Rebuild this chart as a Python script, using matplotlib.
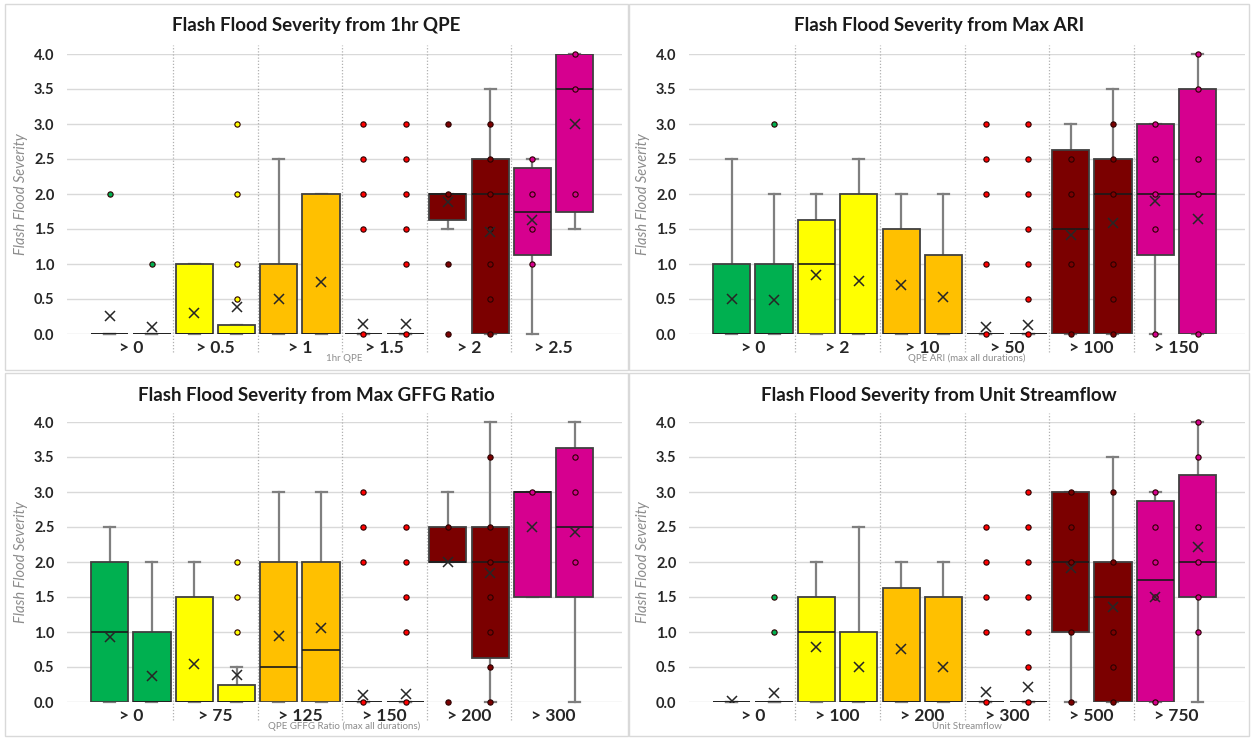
import matplotlib.pyplot as plt
from matplotlib.patches import Rectangle

plt.rcParams.update({
    "font.family": ["Lato", "DejaVu Sans"],
    "axes.facecolor": "white",
    "figure.facecolor": "white",
})

# ---- data ----
TITLES = [
    "Flash Flood Severity from 1hr QPE",
    "Flash Flood Severity from Max ARI",
    "Flash Flood Severity from Max GFFG Ratio",
    "Flash Flood Severity from Unit Streamflow",
]
XLABELS = ["1hr QPE", "QPE ARI (max all durations)",
           "QPE GFFG Ratio (max all durations)", "Unit Streamflow"]
CATS = [
    ["> 0", "> 0.5", "> 1", "> 1.5", "> 2", "> 2.5"],
    ["> 0", "> 2", "> 10", "> 50", "> 100", "> 150"],
    ["> 0", "> 75", "> 125", "> 150", "> 200", "> 300"],
    ["> 0", "> 100", "> 200", "> 300", "> 500", "> 750"],
]
CAT_COLORS = ["#00b050", "#ffff00", "#ffc000", "#ff0000", "#7b0000", "#d6008f"]

# two boxes per category, 12 per panel
qpe_lo = [0, 0, 0, 0, 0, 0, 0, 0, 1.5, 0, 0, 1.5]
qpe_q1 = [0, 0, 0, 0, 0, 0, 0, 0, 1.625, 0, 1.125, 1.75]
qpe_med = [0, 0, 0, 0, 0, 0, 0, 0, 2.0, 2.0, 1.75, 3.5]
qpe_q3 = [0, 0, 1.0, 0.125, 1.0, 2.0, 0, 0, 2.0, 2.5, 2.375, 4.0]
qpe_hi = [0, 0, 1.0, 0.125, 2.5, 2.0, 0, 0, 2.0, 3.5, 2.5, 4.0]
qpe_mean = [0.26, 0.1, 0.3, 0.39, 0.5, 0.74, 0.14, 0.14, 1.88, 1.46, 1.63, 3.0]
qpe_pts = [[2.0], [1.0], [], [3.0, 2.0, 1.0, 0.5], [], [],
           [3.0, 2.5, 2.0, 1.5, 0], [3.0, 2.5, 2.0, 1.5, 1.0, 0],
           [3.0, 2.0, 1.0, 0], [3.0, 2.5, 2.0, 1.5, 1.0, 0.5, 0],
           [2.5, 2.0, 1.5, 1.0], [4.0, 3.5, 2.0]]

ari_lo = [0, 0, 0, 0, 0, 0, 0, 0, 0, 0, 0, 0]
ari_q1 = [0, 0, 0, 0, 0, 0, 0, 0, 0, 0, 1.125, 0]
ari_med = [0, 0, 1.0, 0, 0, 0, 0, 0, 1.5, 2.0, 2.0, 2.0]
ari_q3 = [1.0, 1.0, 1.625, 2.0, 1.5, 1.125, 0, 0, 2.625, 2.5, 3.0, 3.5]
ari_hi = [2.5, 2.0, 2.0, 2.5, 2.0, 2.0, 0, 0, 3.0, 3.5, 3.0, 4.0]
ari_mean = [0.5, 0.48, 0.85, 0.76, 0.7, 0.53, 0.1, 0.13, 1.42, 1.59, 1.9, 1.64]
ari_pts = [[], [3.0], [], [], [], [],
           [3.0, 2.5, 2.0, 1.0, 0], [3.0, 2.5, 2.0, 1.5, 1.0, 0.5, 0],
           [2.5, 2.0, 1.0, 0], [3.0, 2.5, 2.0, 1.0, 0.5, 0],
           [3.0, 2.5, 2.0, 1.5, 0], [4.0, 3.5, 2.5, 2.0, 0]]

gffg_lo = [0, 0, 0, 0, 0, 0, 0, 0, 2.0, 0, 1.5, 0]
gffg_q1 = [0, 0, 0, 0, 0, 0, 0, 0, 2.0, 0.625, 1.5, 1.5]
gffg_med = [1.0, 0, 0, 0, 0.5, 0.75, 0, 0, 2.0, 2.0, 3.0, 2.5]
gffg_q3 = [2.0, 1.0, 1.5, 0.25, 2.0, 2.0, 0, 0, 2.5, 2.5, 3.0, 3.625]
gffg_hi = [2.5, 2.0, 2.0, 0.5, 3.0, 3.0, 0, 0, 3.0, 4.0, 3.0, 4.0]
gffg_mean = [0.93, 0.37, 0.55, 0.39, 0.94, 1.06, 0.1, 0.12, 2.0, 1.84, 2.5, 2.43]
gffg_pts = [[], [], [], [2.0, 1.5, 1.0], [], [],
            [3.0, 2.5, 2.0, 0], [2.5, 2.0, 1.5, 1.0, 0],
            [2.5, 0], [3.5, 2.5, 2.0, 1.5, 1.0, 0.5, 0],
            [3.0], [3.5, 3.0, 2.0]]

flow_lo = [0, 0, 0, 0, 0, 0, 0, 0, 0, 0, 0, 0]
flow_q1 = [0, 0, 0, 0, 0, 0, 0, 0, 1.0, 0, 0, 1.5]
flow_med = [0, 0, 1.0, 0, 0, 0, 0, 0, 2.0, 1.5, 1.75, 2.0]
flow_q3 = [0, 0, 1.5, 1.0, 1.625, 1.5, 0, 0, 3.0, 2.0, 2.875, 3.25]
flow_hi = [0, 0, 2.0, 2.5, 2.0, 2.0, 0, 0, 3.0, 3.5, 3.0, 4.0]
flow_mean = [0.02, 0.13, 0.79, 0.5, 0.76, 0.5, 0.14, 0.21, 1.91, 1.36, 1.5, 2.21]
flow_pts = [[], [1.5, 1.0], [], [], [], [],
            [2.5, 2.0, 1.5, 1.0, 0], [3.0, 2.5, 2.0, 1.5, 1.0, 0.5, 0],
            [3.0, 2.5, 2.0, 1.0, 0], [3.0, 2.0, 1.0, 0.5, 0],
            [3.0, 2.5, 2.0, 1.5, 0], [4.0, 3.5, 2.5, 2.0, 1.5, 1.0]]

PANELS = [
    (qpe_lo, qpe_q1, qpe_med, qpe_q3, qpe_hi, qpe_mean, qpe_pts),
    (ari_lo, ari_q1, ari_med, ari_q3, ari_hi, ari_mean, ari_pts),
    (gffg_lo, gffg_q1, gffg_med, gffg_q3, gffg_hi, gffg_mean, gffg_pts),
    (flow_lo, flow_q1, flow_med, flow_q3, flow_hi, flow_mean, flow_pts),
]

# ---- layout in pixels ----
W, H = 1251, 738
fig = plt.figure(figsize=(W / 100, H / 100), dpi=100)

# (plot left, right, top, bottom), (frame left, right, top, bottom)
BOXES = [
    ((67, 622, 54, 334), (5, 628, 4, 370)),
    ((689, 1245, 54, 334), (629, 1249, 4, 370)),
    ((67, 622, 422, 702), (5, 628, 373, 736)),
    ((689, 1245, 422, 702), (629, 1249, 373, 736)),
]

GRID = "#d9d9d9"
EDGE = "#404040"
WHISK = "#7f7f7f"

for k, ((l, r, t, b), (fl, fr, ft, fb)) in enumerate(BOXES):
    fig.patches.append(Rectangle((fl / W, 1 - fb / H), (fr - fl) / W, (fb - ft) / H,
                                 transform=fig.transFigure, fill=False,
                                 edgecolor=GRID, lw=1))
    ax = fig.add_axes([l / W, 1 - b / H, (r - l) / W, (b - t) / H])
    lo, q1, med, q3, hi, mean, pts = PANELS[k]

    stats, positions, colors = [], [], []
    for i in range(12):
        stats.append(dict(whislo=lo[i], q1=q1[i], med=med[i], q3=q3[i],
                          whishi=hi[i], mean=mean[i], fliers=pts[i]))
        positions.append(i // 2 + (-0.25 if i % 2 == 0 else 0.25))
        colors.append(CAT_COLORS[i // 2])

    art = ax.bxp(stats, positions=positions, widths=0.44, capwidths=0.13,
                 patch_artist=True, showmeans=True,
                 boxprops=dict(edgecolor=EDGE, linewidth=1.3),
                 medianprops=dict(color="#1a1a1a", linewidth=1.2),
                 whiskerprops=dict(color=WHISK, linewidth=1.6),
                 capprops=dict(color=WHISK, linewidth=1.6),
                 meanprops=dict(marker="x", markeredgecolor="#262626",
                                markersize=7, markeredgewidth=1.1),
                 flierprops=dict(marker="o", markersize=3.8,
                                 markeredgecolor="#2a0000", markeredgewidth=0.8))
    for box, c in zip(art["boxes"], colors):
        box.set_facecolor(c)
        box.set_zorder(2)
    for fls, c in zip(art["fliers"], colors):
        fls.set_markerfacecolor(c)
        fls.set_zorder(4)
        fls.set_clip_on(False)
    for m in art["medians"]:
        m.set_zorder(3)
    for m in art["means"]:
        m.set_zorder(5)
    for w in art["whiskers"] + art["caps"]:
        w.set_zorder(1.5)
        w.set_clip_on(False)

    ax.set_xlim(-0.755, 5.81)
    ax.set_ylim(0, 4)
    ax.set_yticks([x * 0.5 for x in range(9)])
    ax.set_yticklabels([f"{x * 0.5:.1f}" for x in range(9)],
                       fontsize=10.5, fontweight="bold", color="#262626")
    ax.set_xticks(range(6))
    ax.set_xticklabels(CATS[k], fontsize=12.5, fontweight="bold", color="#262626")
    ax.tick_params(length=0, axis="y", pad=9)
    ax.tick_params(length=0, axis="x", pad=4)
    ax.grid(axis="y", color=GRID, lw=1)
    ax.set_axisbelow(True)
    for s in ax.spines.values():
        s.set_visible(False)

    # dotted separators between categories
    for xs in [0.5, 1.5, 2.5, 3.5, 4.5]:
        ax.plot([xs, xs], [-0.064, 1.032], transform=ax.get_xaxis_transform(),
                color="#b0b0b0", lw=0.9, ls=(0, (1, 1.5)), clip_on=False, zorder=1)

    ax.set_ylabel("Flash Flood Severity", fontsize=10.5, style="italic",
                  color="#8c8c8c", labelpad=4)
    ax.text(0.5, -0.088, XLABELS[k], transform=ax.transAxes, ha="center",
            va="center", fontsize=7, color="#8c8c8c")
    fig.text((fl + fr) / 2 / W, 1 - (ft + 22) / H, TITLES[k], ha="center",
             va="center", fontsize=13.5, fontweight="bold", color="#1a1a1a")

fig.savefig("out.png", dpi=100)
